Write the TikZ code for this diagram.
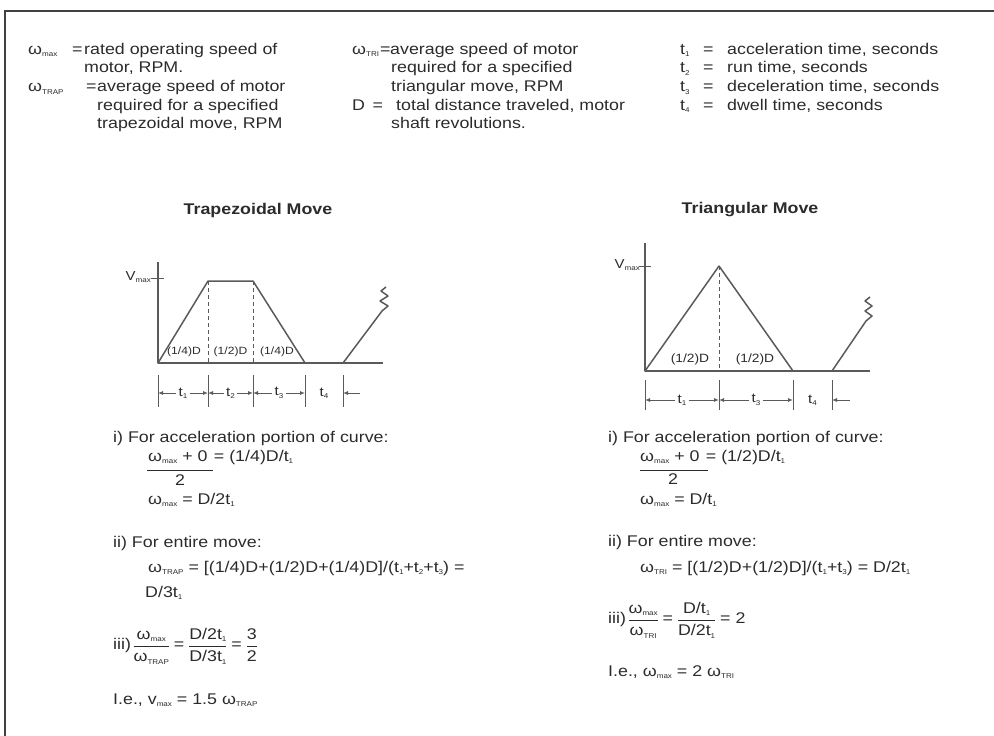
\documentclass[tikz,border=0pt]{standalone}
\usepackage{fontspec}
\setmainfont{Liberation Sans}[FakeStretch=1.15]
\usetikzlibrary{arrows.meta, positioning}
\definecolor{ink}{HTML}{2B2B2B}
\definecolor{plot}{HTML}{5A5A5A}
\newcommand\fs{\fontsize{15.5}{18.7}\selectfont}
\newcommand\sbs[1]{\raisebox{-0.35ex}{\fontsize{7}{7}\selectfont #1}}
\newcommand\frc[2]{{\renewcommand\arraystretch{1.15}\setlength\arrayrulewidth{0.9pt}%
  \begin{tabular}{@{}c@{}}#1\\\hline #2\end{tabular}}}

\begin{document}
\begin{tikzpicture}[x=1pt, y=-1pt,
  txt/.style={anchor=base west, inner sep=0pt, font=\fs, text=ink},
  ttl/.style={inner sep=0pt, font=\fs\bfseries, text=ink},
  lbl/.style={inner sep=0pt, font=\fontsize{10.5}{12}\selectfont, text=ink},
  tlbl/.style={inner sep=2pt, font=\fontsize{13}{14}\selectfont, text=ink},
  curve/.style={draw=plot, line width=1.5pt, line join=round},
  guide/.style={draw=plot, line width=1pt, dash pattern=on 4pt off 3pt},
  tickline/.style={draw=plot, line width=1pt},
  dim/.style={draw=plot, line width=0.9pt, -{Latex[length=5pt,width=4pt]}},
  bar/.style={draw=ink, line width=0.9pt},
  frame/.style={draw=black!75, line width=1.6pt}]
  \useasboundingbox (0,0) rectangle (994,736);
  \draw[frame] (5,736) -- (5,11) -- (994,11);

  % definitions
  \node[txt] (wmax) at (28,54) {ω\sbs{max}};
  \node[txt] at (72,54) {=};
  \node[txt] (dwmax) at (84,54) {\begin{tabular}[t]{@{}l@{}}rated operating speed of\\motor, RPM.\end{tabular}};
  \node[txt] (wtrap) at (28,91.4) {ω\sbs{TRAP}};
  \node[txt] at (86,91.4) {=};
  \node[txt] (dwtrap) at (97,91.4) {\begin{tabular}[t]{@{}l@{}}average speed of motor\\required for a specified\\trapezoidal move, RPM\end{tabular}};

  \node[txt] (wtri) at (352,54) {ω\sbs{TRI}};
  \node[txt] at (380,54) {=};
  \node[txt] (dwtri) at (390,54) {average speed of motor};
  \node[txt] at (391,72.7) {\begin{tabular}[t]{@{}l@{}}required for a specified\\triangular move, RPM\end{tabular}};
  \node[txt] (dist) at (352,110.1) {D \,=};
  \node[txt] (ddist) at (396,110.1) {total distance traveled, motor};
  \node[txt] at (391,128.8) {shaft revolutions.};

  \foreach \i/\y/\s in {1/54/acceleration time, 2/72.7/run time, 3/91.4/deceleration time, 4/110.1/dwell time}{
    \node[txt] (t\i) at (680,\y) {t\sbs{\i}};
    \node[txt] at (703,\y) {=};
    \node[txt] at (727,\y) {\s, seconds};
  }

  % trapezoidal move
  \node[ttl] (trap) at (258,210) {Trapezoidal Move};
  \draw[curve] (158,262) -- (158,363) -- (383,363);
  \draw[tickline] (151,278) -- (164,278);
  \node[lbl, anchor=east, font=\fontsize{13}{14}\selectfont] (lv) at (151,277) {V\sbs{max}};
  \draw[curve] (158,363) -- (208,281) -- (253,281) -- (305,363);
  \draw[guide] (208,281) -- (208,363);
  \draw[guide] (253,281) -- (253,363);
  \draw[curve] (343,363) -- (382,311) -- (388,306) -- (380,301) -- (388,296) -- (381,291) -- (386,287);
  \node[lbl] at (184,352) {(1/4)D};
  \node[lbl] at (230.5,352) {(1/2)D};
  \node[lbl] at (277,352) {(1/4)D};

  \foreach \x [count=\i] in {158,208,253,305,343}{
    \coordinate (lk\i) at (\x,393);
    \draw[tickline] (\x,375) -- (\x,407);
  }
  \node[tlbl] (lt1) at (183,393) {t\sbs{1}};
  \node[tlbl] (lt2) at (230.5,393) {t\sbs{2}};
  \node[tlbl] (lt3) at (279,393) {t\sbs{3}};
  \node[tlbl] (lt4) at (324,393) {t\sbs{4}};
  \coordinate (lr) at (360,393);
  \draw[dim] (lt1) -- (lk1);
  \draw[dim] (lt1) -- (lk2);
  \draw[dim] (lt2) -- (lk2);
  \draw[dim] (lt2) -- (lk3);
  \draw[dim] (lt3) -- (lk3);
  \draw[dim] (lt3) -- (lk4);
  \draw[dim] (lr) -- (lk5);

  % triangular move
  \node[ttl] (tri) at (750,210) {Triangular Move};
  \draw[curve] (645,243) -- (645,371) -- (870,371);
  \draw[tickline] (639,266) -- (651,266);
  \node[lbl, anchor=east, font=\fontsize{13}{14}\selectfont] (rv) at (640,265) {V\sbs{max}};
  \draw[curve] (645,371) -- (719,266) -- (793,371);
  \draw[guide] (719,266) -- (719,371);
  \draw[curve] (832,371) -- (866,321) -- (872,316) -- (865,311) -- (872,306) -- (865,301) -- (870,297);
  \node[lbl, font=\fontsize{12}{13}\selectfont] at (690,359) {(1/2)D};
  \node[lbl, font=\fontsize{12}{13}\selectfont] at (755,359) {(1/2)D};

  \foreach \x [count=\i] in {645,719,793,832}{
    \coordinate (rk\i) at (\x,400);
    \draw[tickline] (\x,380) -- (\x,410);
  }
  \node[tlbl] (rt1) at (682,400) {t\sbs{1}};
  \node[tlbl] (rt3) at (756,400) {t\sbs{3}};
  \node[tlbl] (rt4) at (812.5,400) {t\sbs{4}};
  \coordinate (rr) at (850,400);
  \draw[dim] (rt1) -- (rk1);
  \draw[dim] (rt1) -- (rk2);
  \draw[dim] (rt3) -- (rk2);
  \draw[dim] (rt3) -- (rk3);
  \draw[dim] (rr) -- (rk4);

  % trapezoidal formulas
  \node[txt] (la) at (113,442) {i) For acceleration portion of curve:};
  \node[txt] (lnum) at (148,461) {ω\sbs{max} + 0};
  \node[txt] at ([xshift=6pt]lnum.base east) {= (1/4)D/t\sbs{1}};
  \draw[bar] (147,470) -- (213,470);
  \node[txt, anchor=base] at (180,485) {2};
  \node[txt] at (148,504) {ω\sbs{max} = D/2t\sbs{1}};
  \node[txt] (lb) at (113,547) {ii) For entire move:};
  \node[txt] at (148,572) {ω\sbs{TRAP} = [(1/4)D+(1/2)D+(1/4)D]/(t\sbs{1}+t\sbs{2}+t\sbs{3}) =};
  \node[txt] at (145,597) {D/3t\sbs{1}};
  \node[txt, anchor=west] (lc) at (113,646) {iii)\,\frc{ω\sbs{max}}{ω\sbs{TRAP}} = \frc{D/2t\sbs{1}}{D/3t\sbs{1}} = \frc{3}{2}};
  \node[txt] (ld) at (113,704) {I.e., v\sbs{max} = 1.5 ω\sbs{TRAP}};

  % triangular formulas
  \node[txt] (ra) at (608,442) {i) For acceleration portion of curve:};
  \node[txt] (rnum) at (640,461) {ω\sbs{max} + 0};
  \node[txt] at ([xshift=6pt]rnum.base east) {= (1/2)D/t\sbs{1}};
  \draw[bar] (640,470) -- (708,470);
  \node[txt, anchor=base] at (673,484) {2};
  \node[txt] at (640,504) {ω\sbs{max} = D/t\sbs{1}};
  \node[txt] (rb) at (608,546) {ii) For entire move:};
  \node[txt] at (640,572) {ω\sbs{TRI} = [(1/2)D+(1/2)D]/(t\sbs{1}+t\sbs{3}) = D/2t\sbs{1}};
  \node[txt, anchor=west] (rc) at (608,620) {iii)\,\frc{ω\sbs{max}}{ω\sbs{TRI}} = \frc{D/t\sbs{1}}{D/2t\sbs{1}} = 2};
  \node[txt] (rd) at (608,676) {I.e., ω\sbs{max} = 2 ω\sbs{TRI}};
\end{tikzpicture}
\end{document}
